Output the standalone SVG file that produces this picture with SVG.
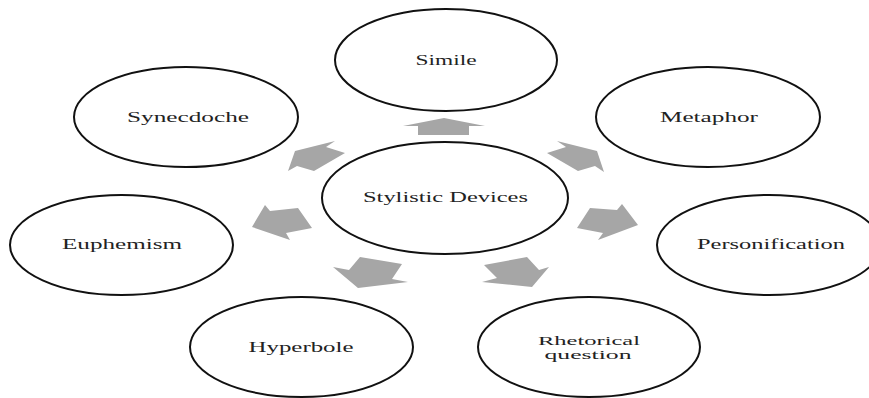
<svg xmlns="http://www.w3.org/2000/svg" width="869" height="398" viewBox="0 0 869 398">
<style>
.node ellipse{fill:#fff;stroke:#111;stroke-width:2}
.node text{font-family:"Liberation Serif","Times New Roman",serif;font-size:14px;fill:#222;text-anchor:middle}
.node text.small{font-size:12.5px}
.arrow{fill:#a6a6a6;stroke:none}
</style>
<rect width="869" height="398" fill="#fff"/>
<g id="connectors">
<polygon class="arrow" points="418,135 418,126 403,126 444,118 485,126 469,126 469,135"/>
<polygon class="arrow" points="345,153 326,147 335,141 295,151 288,171 297,166 314,171"/>
<polygon class="arrow" points="547,153 566,147 557,141 597,151 604,172 595,166 578,171"/>
<polygon class="arrow" points="252,227 265,205 270,211 298,208 312,228 286,233 290,240"/>
<polygon class="arrow" points="590,208 617,210 622,204 638,225 598,240 603,233 577,228"/>
<polygon class="arrow" points="360,257 402,264 392,279 408,282 358,288 333,267 349,270"/>
<polygon class="arrow" points="527,257 539,270 549,267 532,287 482,282 497,278 484,265"/>
</g>
<g id="node-simile" class="node"><ellipse cx="446" cy="60" rx="111" ry="51"/><text x="446" y="65" textLength="61" lengthAdjust="spacingAndGlyphs">Simile</text></g>
<g id="node-synecdoche" class="node"><ellipse cx="186" cy="117" rx="112" ry="50"/><text x="188" y="122" textLength="122" lengthAdjust="spacingAndGlyphs">Synecdoche</text></g>
<g id="node-metaphor" class="node"><ellipse cx="708" cy="117" rx="112" ry="50"/><text x="709" y="122" textLength="98" lengthAdjust="spacingAndGlyphs">Metaphor</text></g>
<g id="node-center" class="node"><ellipse cx="445" cy="198" rx="123" ry="56"/><text x="445.5" y="202" textLength="165" lengthAdjust="spacingAndGlyphs">Stylistic Devices</text></g>
<g id="node-euphemism" class="node"><ellipse cx="121.5" cy="245" rx="111.5" ry="50"/><text x="122" y="249" textLength="120" lengthAdjust="spacingAndGlyphs">Euphemism</text></g>
<g id="node-personification" class="node"><ellipse cx="769" cy="245" rx="112" ry="50"/><text x="771" y="249" textLength="148" lengthAdjust="spacingAndGlyphs">Personification</text></g>
<g id="node-hyperbole" class="node"><ellipse cx="301.5" cy="347" rx="111.5" ry="50"/><text x="301" y="352" textLength="105" lengthAdjust="spacingAndGlyphs">Hyperbole</text></g>
<g id="node-rhetorical" class="node"><ellipse cx="589" cy="347" rx="111" ry="50"/><text class="small" x="589" y="344.5" textLength="102" lengthAdjust="spacingAndGlyphs">Rhetorical</text><text class="small" x="588" y="358.5" textLength="87" lengthAdjust="spacingAndGlyphs">question</text></g>
</svg>
